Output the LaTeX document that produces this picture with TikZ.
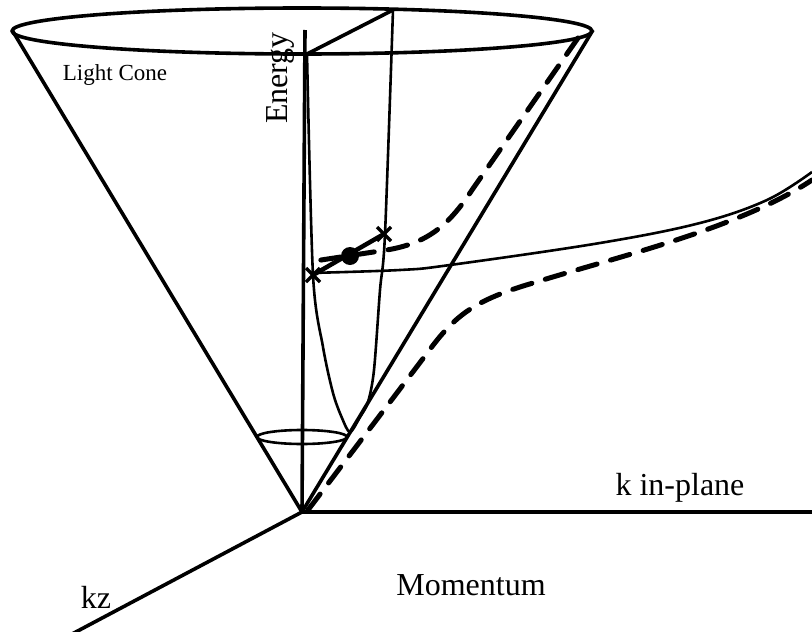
\documentclass[tikz,border=0pt]{standalone}
\usepackage{fontspec}
\setmainfont{Liberation Serif}

\begin{document}
\begin{tikzpicture}[
  x=1pt, y=-1pt,
  coneline/.style={line width=3.6pt, line join=round},
  curveline/.style={line width=2.6pt},
  dashline/.style={line width=5pt, dash pattern=on 20pt off 14pt, line cap=round},
  lbl/.style={font=\fontsize{32}{36}\selectfont, inner sep=0pt}
]
\useasboundingbox (0,0) rectangle (812,632);
\coordinate (apex) at (302,512);
\coordinate (rimL) at (12,30);
\coordinate (rimR) at (593,30);
\coordinate (front) at (307,54);
\coordinate (back) at (393,10);

% light cone
\draw[coneline] (302,31) ellipse [x radius=290, y radius=23];
\draw[coneline] (rimL) -- (apex) -- (rimR);
\draw[curveline] (302,437) ellipse [x radius=45, y radius=7];

% axes
\draw[coneline] (305,30) -- (apex);
\draw[coneline] (apex) -- (812,512);
\draw[coneline] (apex) -- (72,634);
\draw[coneline] (front) -- (back);

% dispersion curves
\draw[curveline] plot[smooth, tension=0.5] coordinates {(front) (313,275) (323,347) (333,393) (342,418) (350,432) (360,417) (368,402) (374,370) (380,290) (385,234) (back)};
\draw[curveline] plot[smooth, tension=0.6] coordinates {(310,273) (400,270) (450,265) (600,243) (700,223) (767,200) (812,172)};
\draw[dashline] (578,38) -- (472,190) .. controls (447,228) and (425,245) .. (380,251) -- (308,262);
\draw[dashline] (308,510) -- (428,352) .. controls (455,315) and (475,300) .. (533,283) .. controls (620,256) and (740,228) .. (812,180);

% polariton point
\coordinate (xlo) at (313,275);
\coordinate (xhi) at (384,234);
\draw[line width=4.5pt] (xlo) -- (xhi);
\fill (350,256) circle [radius=9];
\foreach \p in {xlo,xhi}
  \draw[line width=3.5pt] (\p) ++(-7,-7) -- ++(14,14) (\p) ++(-7,7) -- ++(14,-14);

% labels
\node[lbl, font=\fontsize{23}{26}\selectfont] (lightcone) at (115,75) {Light Cone};
\node[lbl, rotate=90] (energy) at (280,78) {Energy};
\node[lbl] (kplane) at (680,488) {k in-plane};
\node[lbl] (kz) at (96,597) {kz};
\node[lbl] (momentum) at (471,585) {Momentum};
\end{tikzpicture}
\end{document}
